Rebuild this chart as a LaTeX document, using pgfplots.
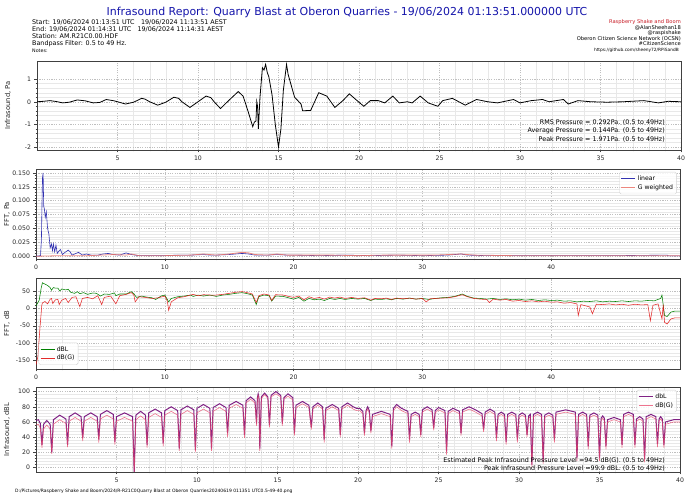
\documentclass[border=0pt]{standalone}
\usepackage{pgfplots}
\usepackage{pgfplotstable}
\usepackage{fontspec}
\setmainfont{DejaVu Sans}
\pgfplotsset{compat=1.18}

\definecolor{titleblue}{RGB}{20,20,170}
\definecolor{rsred}{RGB}{200,30,40}
\definecolor{linblue}{RGB}{30,30,170}
\definecolor{gcoral}{RGB}{235,115,105}
\definecolor{dbgreen}{RGB}{0,128,0}
\definecolor{dbred}{RGB}{225,20,20}
\definecolor{dblpurple}{RGB}{115,10,120}
\definecolor{dbgpink}{RGB}{232,70,105}

% time (s), dBL, dB(G)
\pgfplotstableread{
t L G
0.00 62 56
0.15 63 57
0.27 58 52
0.37 30 26
0.47 57 51
0.67 62 56
0.88 57 51
0.98 20 18
1.08 63 57
1.47 69 63
1.86 64 58
1.96 30 27
2.06 67 61
2.43 72 66
2.80 67 61
2.90 39 35
3.00 67 61
3.40 72 66
3.80 67 61
3.90 37 33
4.00 70 64
4.40 75 69
4.80 70 64
4.90 34 30
5.00 67 61
5.50 72 66
6.00 67 61
6.10 -7 -9
6.20 69 63
6.50 74 68
6.80 69 63
6.90 30 26
7.00 72 66
7.40 77 71
7.80 72 66
7.90 32 28
8.00 75 69
8.40 80 74
8.80 75 69
8.90 25 22
9.00 76 70
9.40 81 75
9.80 76 70
9.90 23 20
10.00 78 72
10.40 83 77
10.80 78 72
10.90 25 22
11.00 79 74
11.40 84 79
11.80 79 74
11.90 45 40
12.00 82 78
12.43 87 83
12.85 82 78
12.95 43 39
13.05 88 85
13.33 93 90
13.60 88 85
13.70 58 55
13.75 92 90
13.80 97 95
13.85 92 90
13.90 25 22
14.00 93 91
14.20 98 96
14.40 93 91
14.50 56 53
14.60 95 93
14.90 100 97
15.20 95 93
15.30 58 55
15.40 92 90
15.65 97 94
15.95 92 89
16.05 45 42
16.15 82 79
16.55 87 84
16.95 82 79
17.10 53 50
17.20 80 77
17.50 85 82
17.80 80 77
17.90 37 33
18.00 78 75
18.40 83 80
18.80 78 75
18.90 43 40
19.00 80 77
19.35 85 82
19.70 80 77
19.90 78 75
20.10 78 75
20.30 74 71
20.40 45 42
20.50 75 72
20.60 80 77
20.70 75 72
20.80 48 45
20.90 70 67
21.45 74 71
22.00 70 67
22.10 28 25
22.20 78 75
22.40 83 80
22.70 78 75
23.10 74 71
23.20 37 33
23.30 70 67
23.55 73 70
23.80 70 67
23.90 43 40
24.00 76 73
24.30 80 77
24.60 76 73
24.70 52 49
24.80 75 72
25.00 79 76
25.40 75 72
25.50 21 17
25.60 74 71
25.90 78 75
26.30 74 71
26.40 45 42
26.50 76 73
26.90 80 77
27.30 76 73
27.70 71 68
27.80 50 47
27.90 73 70
28.20 77 74
28.50 73 70
28.60 39 35
28.70 70 67
28.90 73 70
29.10 70 67
29.20 34 30
29.30 70 67
29.55 73 70
29.80 70 67
29.90 37 33
30.00 69 66
30.20 72 69
30.40 69 66
30.50 43 40
30.60 68 65
30.70 70 67
30.80 4 0
30.90 70 67
31.15 73 70
31.40 70 67
31.50 9 5
31.60 69 66
31.85 72 69
32.10 69 66
32.20 37 33
32.30 73 70
32.90 76 73
33.50 73 70
33.60 13 9
33.70 70 67
33.95 73 70
34.20 70 67
34.30 28 24
34.40 69 66
34.65 72 69
34.90 69 66
35.00 13 9
35.10 65 62
35.20 68 65
35.30 65 62
35.40 28 24
35.50 63 60
35.90 66 63
36.30 63 60
36.40 30 26
36.50 70 67
36.80 73 70
37.10 70 67
37.20 30 26
37.30 64 61
37.50 67 64
37.70 64 61
37.80 11 7
37.90 67 64
38.20 70 67
38.50 67 64
38.60 31 27
38.70 64 61
38.80 67 64
38.90 64 61
39.00 30 26
39.10 60 57
39.60 63 60
40.00 63 60
}\dbtable

\pgfplotsset{
  panel/.style={
    scale only axis, width=644bp, anchor=south west,
    axis line style={black!75, line width=0.6pt},
    tick label style={font=\fontsize{6.2}{7}\selectfont, text=black!85},
    /pgf/number format/assume math mode=true,
    tick align=outside, tick pos=left,
    major tick length=2.5bp, minor tick length=1.4bp,
    every tick/.style={black!75, line width=0.4pt},
    grid=both,
    major grid style={gray!50, dash pattern=on 1.2pt off 1.2pt, line width=0.35pt},
    minor grid style={gray!18, line width=0.3pt},
    ylabel style={font=\fontsize{6.8}{8}\selectfont, text=black!85,
      at={(axis description cs:-0.035,0.5)}, anchor=south},
    legend style={font=\fontsize{6.2}{7}\selectfont, draw=gray!35,
      rounded corners=1.5pt, fill=white, fill opacity=0.85, text opacity=1,
      inner sep=1.5pt, row sep=-1.5pt},
    legend cell align=left,
    legend image code/.code={\draw[##1] (0bp,0bp) -- (14bp,0bp);},
  }
}

\begin{document}
\begin{tikzpicture}
\useasboundingbox (0,0) rectangle (690bp,498bp);

% header
\node[font=\fontsize{11}{13}\selectfont, text=titleblue] at (347bp,486bp)
  {Infrasound Report: Quarry Blast at Oberon Quarries - 19/06/2024 01:13:51.000000 UTC};
\begin{scope}[every node/.style={anchor=west, inner sep=0pt, font=\fontsize{6.4}{7}\selectfont}]
\node at (32bp,476bp) {Start: 19/06/2024 01:13:51 UTC\quad 19/06/2024 11:13:51 AEST};
\node at (32bp,468.5bp) {End: 19/06/2024 01:14:31 UTC\quad 19/06/2024 11:14:31 AEST};
\node at (32bp,461.5bp) {Station: AM.R21C0.00.HDF};
\node at (32bp,454bp) {Bandpass Filter: 0.5 to 49 Hz.};
\node[font=\fontsize{4.8}{5}\selectfont] at (32bp,447bp) {Notes:};
\end{scope}
\begin{scope}[every node/.style={anchor=east, inner sep=0pt, font=\fontsize{5.2}{5.5}\selectfont}]
\node[text=rsred] at (681bp,475.7bp) {Raspberry Shake and Boom};
\node at (681bp,470bp) {@AlanSheehan18};
\node at (681bp,464.7bp) {@raspishake};
\node at (681bp,459.3bp) {Oberon Citizen Science Network (OCSN)};
\node at (681bp,454bp) {\#CitizenScience};
\node[font=\fontsize{4.35}{4.8}\selectfont] at (679bp,448bp) {https://github.com/sheeny72/RPiSandB};
\end{scope}

% panel 1: waveform
\begin{axis}[panel, at={(37bp,348bp)}, height=89bp,
  xmin=0, xmax=40, ymin=-2.13, ymax=1.8,
  xtick={5,10,...,40}, ytick={-2,-1,0,1},
  minor x tick num=4, minor y tick num=4,
  ylabel={Infrasound, Pa}]
\addplot[black, line width=0.8pt] coordinates {
(0,0) (0.4,0.02) (0.8,0.05) (1.2,0.01) (1.6,-0.05) (2.0,-0.02) (2.5,0.08)
(3.0,0.04) (3.5,-0.05) (3.9,-0.03) (4.3,0.10) (4.8,0.04) (5.5,-0.10)
(6.0,-0.02) (6.5,0.15) (6.7,0.12) (7.0,0.0) (7.5,-0.15) (8.0,-0.02)
(8.5,0.20) (8.8,0.15) (9.0,0.0) (9.5,-0.25) (10.0,0.0) (10.5,0.25)
(10.8,0.18) (11.0,0.0) (11.4,-0.30) (11.9,0.05) (12.5,0.45) (12.8,0.25)
(13.1,-0.4) (13.4,-1.1) (13.5,-0.9) (13.6,-0.85) (13.65,0.0) (13.7,-0.2)
(13.75,-1.2) (13.85,0.2) (14.0,1.5) (14.1,1.4) (14.2,1.65) (14.3,1.3)
(14.4,1.1) (14.6,0.3) (14.8,-1.0) (15.0,-2.0) (15.15,-1.2) (15.3,0.5)
(15.5,1.65) (15.6,1.2) (15.8,0.7) (16.0,0.2) (16.4,-0.1) (16.5,-0.4)
(17.0,-0.38) (17.5,0.4) (18.0,0.25) (18.5,-0.25) (19.0,0.05) (19.4,0.35)
(19.8,0.1) (20.3,-0.2) (20.7,0.05) (21.2,0.05) (21.6,-0.05) (22.1,0.25)
(22.5,-0.05) (23.0,0.0) (23.3,-0.05) (23.8,0.25) (24.3,-0.05) (24.9,-0.2)
(25.2,0.05) (25.8,0.15) (26.2,0.0) (26.6,-0.15) (27.3,0.1) (28.0,0.0)
(28.6,-0.05) (29.6,0.1) (30.0,-0.05) (30.7,0.05) (31.4,0.1) (31.8,0.0)
(32.7,0.1) (33.0,-0.1) (33.6,0.05) (34.4,0.0) (35.4,-0.02) (36.4,0.0)
(37.7,0.05) (38.6,-0.05) (39.2,0.02) (40,0)
};
\end{axis}

% panel 2: FFT linear
\begin{axis}[panel, at={(36bp,239bp)}, height=90bp,
  xmin=0, xmax=50, ymin=-0.005, ymax=0.157,
  xtick={0,10,...,40}, ytick={0,0.025,...,0.15},
  minor x tick num=4, minor y tick num=4,
  scaled y ticks=false,
  yticklabel style={/pgf/number format/.cd, fixed, fixed zerofill, precision=3},
  ylabel={FFT, Pa},
  legend style={at={(axis description cs:0.995,0.967)}, anchor=north east}]
\addplot[linblue, line width=0.6pt, opacity=0.9] coordinates {
(0,0) (0.35,0.001) (0.42,0.03) (0.5,0.14) (0.55,0.15) (0.6,0.09) (0.65,0.085)
(0.72,0.07) (0.8,0.08) (0.9,0.05) (1.0,0.04) (1.1,0.015) (1.2,0.022)
(1.28,0.01) (1.35,0.022) (1.45,0.008) (1.55,0.02) (1.65,0.005) (1.8,0.01)
(1.9,0.012) (2.05,0.003) (2.2,0.006) (2.5,0.011) (2.65,0.008) (2.8,0.002)
(3.0,0.004) (3.3,0.007) (3.6,0.002) (3.9,0.004) (4.3,0.002) (4.8,0.002)
(5.2,0.004) (5.6,0.005) (6.0,0.003) (6.5,0.002) (7.0,0.006) (7.4,0.003)
(8.0,0.001) (9,0.001) (10,0.001) (11,0.002) (12,0.002) (13,0.003)
(13.5,0.002) (14,0.002) (15,0.003) (16,0.005) (16.5,0.004) (17,0.002)
(18,0.002) (18.7,0.003) (19.5,0.002) (20,0.002) (22,0.001) (24,0.002)
(26,0.001) (28,0.002) (30,0.001) (32,0.002) (33,0.004) (33.5,0.002)
(35,0.001) (40,0.001) (45,0.001) (49,0.002) (49.1,0.0005) (50,0.0005)
};
\addlegendentry{linear}
\addplot[gcoral, line width=0.8pt, opacity=0.85] coordinates {
(0,0) (0.5,0.0002) (1,0.0005) (2,0.001) (3,0.001) (4,0.001) (5,0.002)
(6,0.003) (7,0.002) (7.4,0.004) (8,0.001) (10,0.001) (12,0.002) (13,0.004)
(14,0.002) (15,0.004) (16,0.007) (16.5,0.006) (17,0.003) (18,0.002)
(18.7,0.004) (19.5,0.002) (21,0.002) (23,0.002) (25,0.001) (27,0.002)
(29,0.002) (31,0.002) (33,0.004) (34,0.002) (37,0.001) (40,0.001)
(45,0.001) (49,0.001) (50,0.001)
};
\addlegendentry{G weighted}
\end{axis}

% panel 3: FFT dB
\begin{axis}[panel, at={(36bp,129bp)}, height=91bp,
  xmin=0, xmax=50, ymin=-177, ymax=90,
  xtick={0,10,...,40}, ytick={-150,-100,...,50},
  minor x tick num=4, minor y tick num=4,
  ylabel={FFT, dB},
  legend style={at={(axis description cs:0.004,0.045)}, anchor=south west}]
\addplot[dbgreen, line width=0.55pt] coordinates {
(0,8) (0.25,25) (0.4,60) (0.5,76) (0.7,72) (0.9,68) (1.1,62) (1.2,54)
(1.35,62) (1.5,60) (1.7,60) (1.85,52) (2.0,58) (2.3,55) (2.5,57) (2.7,48)
(3.0,45) (3.2,50) (3.4,44) (3.7,47) (4.0,42) (4.4,46) (4.7,45) (5.0,37)
(5.3,43) (5.7,42) (6.1,46) (6.2,38) (6.5,43) (7.0,43) (7.4,50) (7.6,44)
(7.8,33) (8.2,37) (8.6,34) (9.0,32) (9.3,27) (9.7,37) (10.0,40) (10.3,20)
(10.5,30) (11,35) (11.5,37) (12,40) (12.2,36) (12.6,40) (13,37) (13.5,40)
(14,36) (14.5,40) (15,42) (15.5,45) (16,47) (16.4,44) (16.8,40) (17.1,12)
(17.3,35) (17.7,40) (18.1,38) (18.3,22) (18.6,37) (19.2,36) (19.6,32)
(20,28) (20.4,33) (20.8,22) (21.2,30) (21.6,26) (22,28) (22.4,24) (22.8,30)
(23.2,27) (23.6,30) (24,27) (24.5,30) (25,28) (25.5,30) (26,24) (26.3,28)
(26.8,27) (27.2,29) (27.6,26) (28,30) (28.5,28) (29,31) (29.5,28) (30,30)
(30.5,27) (31,30) (31.5,32) (32,33) (32.5,36) (33.1,43) (33.5,36) (34,31)
(34.5,30) (35,28) (35.5,30) (36,27) (36.5,29) (37,26) (37.5,28) (38,25)
(38.5,27) (39,24) (39.5,26) (40,24) (40.5,25) (41,22) (41.5,23) (42,20)
(42.5,22) (43,21) (43.5,23) (44,20) (44.5,22) (45,21) (45.5,23) (46,21)
(46.5,23) (47,22) (47.5,24) (48,23) (48.5,30) (48.6,40) (48.8,-20)
(49,-23) (49.3,-10) (49.6,-7) (50,-7)
};
\addlegendentry{dBL}
\addplot[dbred, line width=0.55pt, opacity=0.9] coordinates {
(0,-165) (0.15,-140) (0.3,-60) (0.45,10) (0.5,17) (0.7,21) (0.9,14)
(1.1,28) (1.2,30) (1.3,15) (1.5,26) (1.7,27) (1.8,12) (2.0,25) (2.3,30)
(2.5,18) (2.8,33) (3.1,35) (3.4,6) (3.6,30) (4.0,33) (4.4,29) (4.8,38)
(5.1,12) (5.3,33) (5.8,37) (6.2,14) (6.5,38) (7.0,42) (7.4,47) (7.6,40)
(7.7,20) (8.0,35) (8.5,33) (9.0,30) (9.5,32) (10.0,37) (10.2,22) (10.3,-5)
(10.5,20) (11,32) (11.5,35) (12,40) (12.2,42) (12.6,38) (13,41) (13.5,40)
(14,40) (14.5,42) (15,45) (15.5,48) (16,50) (16.4,47) (16.8,43) (17.1,18)
(17.3,38) (17.7,43) (18.1,40) (18.3,24) (18.6,41) (19.2,40) (19.6,36)
(20,33) (20.4,37) (20.8,26) (21.2,35) (21.6,30) (22,33) (22.4,28) (22.8,34)
(23.2,31) (23.6,34) (24,30) (24.5,33) (25,30) (25.5,32) (26,25) (26.3,30)
(26.8,29) (27.2,31) (27.6,27) (28,31) (28.5,29) (29,31) (29.5,28) (30,30)
(30.3,20) (30.6,29) (31,30) (31.5,31) (32,32) (32.5,35) (33.1,41) (33.5,35)
(34,30) (34.5,28) (35,27) (35.2,18) (35.5,28) (36,25) (36.5,27) (37,22)
(37.5,24) (38,21) (38.5,23) (39,20) (39.5,22) (40,19) (40.5,20) (41,16)
(41.5,18) (42,14) (42.1,-20) (42.3,12) (43,5) (43.2,-15) (43.5,13) (44,12)
(44.5,14) (45,11) (45.5,13) (46,10) (46.5,13) (47,11) (47.5,12) (47.7,-35)
(47.9,10) (48.3,14) (48.6,-30) (48.7,12) (48.8,-40) (49,-45) (49.3,-30)
(49.6,-27) (50,-27)
};
\addlegendentry{dB(G)}
\end{axis}

% panel 4: dB levels
\begin{axis}[panel, at={(36bp,26bp)}, height=85bp,
  xmin=0, xmax=40, ymin=-5.7, ymax=106,
  xtick={5,10,...,40}, ytick={0,20,...,100},
  minor x tick num=4, minor y tick num=4,
  ylabel={Infrasound, dBL},
  legend style={at={(axis description cs:0.995,0.965)}, anchor=north east}]
\addplot[dblpurple, line width=1.0pt, opacity=0.9] table[x=t, y=L] {\dbtable};
\addlegendentry{dbL}
\addplot[dbgpink, line width=0.6pt, opacity=0.75] table[x=t, y=G] {\dbtable};
\addlegendentry{dB(G)}
\end{axis}

% annotations
\begin{scope}[every node/.style={anchor=east, inner sep=0pt, font=\fontsize{6.4}{7}\selectfont}]
\node at (665bp,375bp) {RMS Pressure = 0.292Pa. (0.5 to 49Hz)};
\node at (665bp,367bp) {Average Pressure = 0.144Pa. (0.5 to 49Hz)};
\node at (665bp,358bp) {Peak Pressure = 1.971Pa. (0.5 to 49Hz)};
\node at (665bp,38bp) {Estimated Peak Infrasound Pressure Level =94.5 dB(G). (0.5 to 49Hz)};
\node at (665bp,30bp) {Peak Infrasound Pressure Level =99.9 dBL. (0.5 to 49Hz)};
\end{scope}
\node[anchor=west, inner sep=0pt, font=\fontsize{4.5}{5}\selectfont] at (15bp,7bp)
  {D:/Pictures/Raspberry Shake and Boom/2024/R-R21C0Quarry Blast at Oberon Quarries20240619 011351 UTC0.5-49-40.png};
\end{tikzpicture}
\end{document}
